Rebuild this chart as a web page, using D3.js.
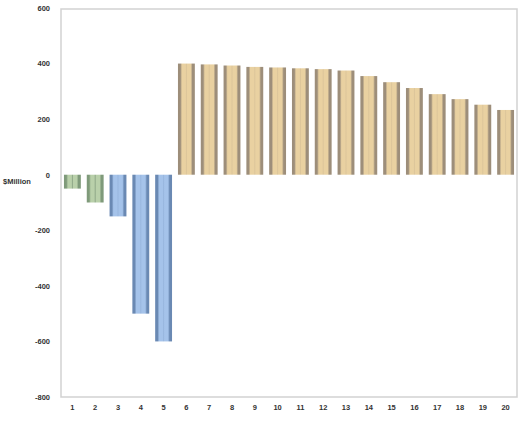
<!DOCTYPE html>
<html><head><meta charset="utf-8">
<script src="https://cdn.jsdelivr.net/npm/d3@7"></script>
<style>body{margin:0;background:#fff;} svg{display:block;}</style>
</head><body>
<svg id="c" width="520" height="421"></svg>
<script>
const categories = ["1","2","3","4","5","6","7","8","9","10","11","12","13","14","15","16","17","18","19","20"];
const values = [-50,-100,-150,-500,-600,400,397,393,388,386,383,380,375,355,333,312,290,272,252,233];
const groups = ["g","g","b","b","b","t","t","t","t","t","t","t","t","t","t","t","t","t","t","t"];
const yTicks = [600,400,200,0,-200,-400,-600,-800];
const yLabel = "$Million";

const palette = {
  g:{edge:"#7f9a7a", mid:"#b9d0aa", center:"#8fa888"},
  b:{edge:"#6a89b3", mid:"#a5c3ea", center:"#98b6de"},
  t:{edge:"#9d8e7a", mid:"#e9d1a1", center:"#dcc59a"}
};

const svg = d3.select("#c");
const defs = svg.append("defs");
Object.entries(palette).forEach(([k,p])=>{
  const gr = defs.append("linearGradient").attr("id","grad-"+k).attr("x1","0").attr("x2","1").attr("y1","0").attr("y2","0");
  [[0,p.edge],[0.14,p.edge],[0.24,p.mid],[0.44,p.mid],[0.5,p.center],[0.56,p.mid],[0.76,p.mid],[0.86,p.edge],[1,p.edge]]
    .forEach(([o,c])=>gr.append("stop").attr("offset",o).attr("stop-color",c));
});

const m = {l:61, r:517, t:8, b:397};
const x = d3.scaleBand().domain(categories).range([m.l, m.r]).paddingInner(0.26).paddingOuter(0.13);
const y = d3.scaleLinear().domain([-800,600]).range([m.b, m.t]);

svg.append("rect").attr("x", m.l).attr("y", m.t+1).attr("width", m.r-m.l).attr("height", m.b-m.t-1)
  .attr("fill","none").attr("stroke","#d2d2d2").attr("stroke-width",1.5);

svg.selectAll("rect.bar").data(values).join("rect").attr("class","bar")
  .attr("x",(d,i)=>x(categories[i]))
  .attr("width", x.bandwidth())
  .attr("y", d=>y(Math.max(0,d)))
  .attr("height", d=>Math.abs(y(d)-y(0)))
  .attr("fill",(d,i)=>`url(#grad-${groups[i]})`);

const font = "Liberation Sans, Arial, sans-serif";
const yAxis = d3.axisLeft(y).tickValues(yTicks).tickSize(0).tickPadding(11).tickFormat(d=>String(d));
const gy = svg.append("g").attr("transform",`translate(${m.l},0)`).call(yAxis);
gy.select(".domain").remove();
gy.selectAll("text").attr("font-family",font).attr("font-size",7.5).attr("font-weight","bold").attr("fill","#333");

const xAxis = d3.axisBottom(x).tickSize(0).tickPadding(8);
const gx = svg.append("g").attr("transform",`translate(0,${m.b})`).call(xAxis);
gx.select(".domain").remove();
gx.selectAll("text").attr("font-family",font).attr("font-size",7.5).attr("font-weight","bold").attr("fill","#333");

svg.append("text").attr("x",3).attr("y",184).text(yLabel)
  .attr("font-family",font).attr("font-size",7.5).attr("font-weight","bold").attr("fill","#333");
</script>
</body></html>
